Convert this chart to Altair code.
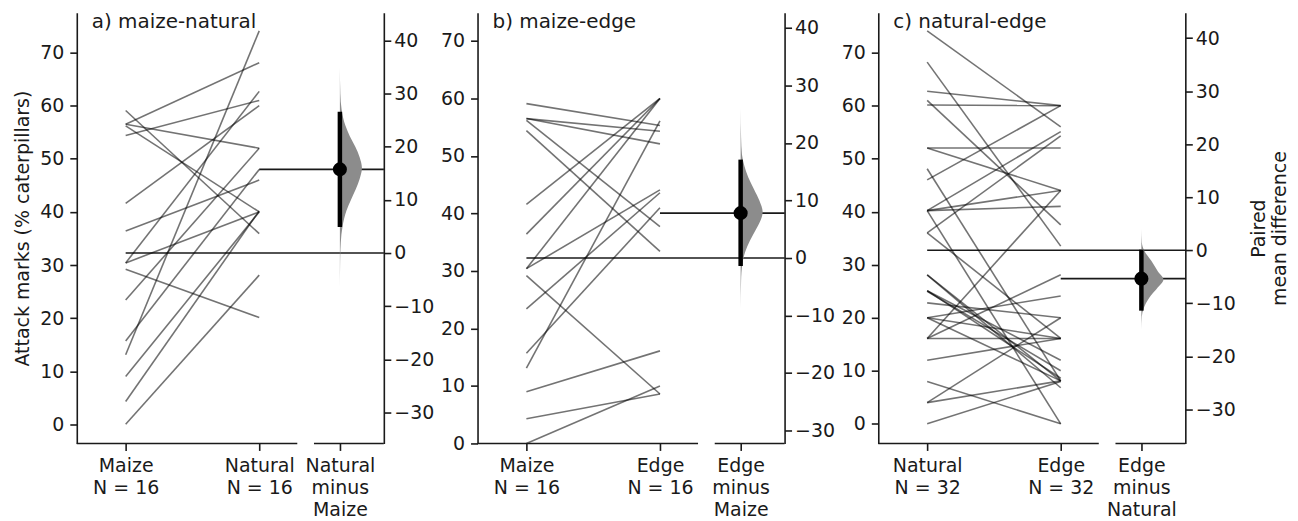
import json
import altair as alt
import numpy as np
import pandas as pd

FONT = "DejaVu Sans"
INK = "#1a1a1a"

# ---------------- data ----------------
# panel a: maize -> natural (paired)
maize_a = [59.1, 56.5, 56.5, 56.2, 54.4, 41.6, 36.4, 30.4, 30.4, 29.2, 23.4, 15.7, 13.1, 9.0, 4.3, 0.0]
natural_a = [35.9, 68.1, 52.0, 40.0, 61.0, 60.0, 46.0, 40.0, 62.7, 20.1, 52.0, 48.0, 74.1, 40.0, 40.2, 28.1]
# panel b: maize -> edge (paired)
maize_b = [59.1, 56.5, 56.5, 56.2, 54.4, 41.6, 36.4, 30.4, 30.4, 29.2, 23.4, 15.7, 13.1, 9.0, 4.3, 0.0]
edge_b = [55.3, 54.3, 52.1, 37.7, 33.4, 60.0, 60.0, 60.0, 44.1, 8.6, 43.6, 41.0, 56.1, 16.1, 8.6, 10.0]
# panel c: natural -> edge (paired)
natural_c = [74.1, 68.2, 62.7, 60.1, 61.0, 52.0, 52.0, 46.0, 48.1, 40.2, 40.2, 40.2, 36.0, 40.2, 36.0, 28.1,
             28.1, 25.1, 25.1, 25.0, 22.8, 20.0, 20.0, 20.0, 16.1, 16.1, 16.1, 12.0, 8.0, 4.0, 4.0, 0.0]
edge_c = [56.0, 33.5, 60.0, 60.0, 37.5, 52.0, 44.0, 60.0, 8.1, 44.0, 41.0, 55.1, 54.3, 0.0, 16.1, 8.1,
          6.8, 8.6, 12.0, 10.0, 20.0, 24.1, 8.1, 16.1, 44.0, 28.1, 16.1, 16.1, 0.0, 8.1, 20.0, 8.0]

# bootstrap distributions of the paired mean difference (half-violin profile, relative width)
dens_a_diff = [-7, -2, 2, 5, 8, 10, 12, 14, 16, 18, 20, 22, 24, 27, 30, 35]
dens_a_rel = [0, 0.01, 0.04, 0.12, 0.3, 0.5, 0.72, 0.9, 1.0, 0.9, 0.7, 0.45, 0.25, 0.08, 0.02, 0]
dens_b_diff = [-9, -4, -1, 1, 3, 5, 7, 8, 10, 12, 14, 16, 18, 21, 26]
dens_b_rel = [0, 0.02, 0.08, 0.2, 0.42, 0.7, 0.95, 1.0, 0.85, 0.6, 0.35, 0.17, 0.06, 0.02, 0]
dens_c_diff = [-15, -12.5, -11, -9, -7, -5.5, -4, -2, 0, 1.5, 4]
dens_c_rel = [0, 0.02, 0.1, 0.35, 0.75, 1.0, 0.75, 0.45, 0.12, 0.02, 0]

# 95% confidence intervals
ci_a = [4.9, 26.6]
ci_b = [-1.4, 17.1]
ci_c = [-11.4, 0.1]

titles = ["a) maize-natural", "b) maize-edge", "c) natural-edge"]
ylims = [[-3.6, 77.5], [0.0, 74.9], [-3.7, 77.5]]
left_ticks = [0, 10, 20, 30, 40, 50, 60, 70]
right_ticks = [-30, -20, -10, 0, 10, 20, 30, 40]

# ---------------- layout (x in units: control=0, test=1) ----------------
W, H = 308, 432
X_MIN, X_MAX = -0.366, 1.933
EFF_POS = 1.604
SEG1_END, SEG2_START = 1.285, 1.41
VMAX = 0.165


def panel(title, ctrl_name, test_name, ctrl, test, dd, dr, ci, ylim, y_title, r_title):
    n = len(ctrl)
    ctrl_mean = float(np.mean(ctrl))
    test_mean = float(np.mean(test))
    eff = test_mean - ctrl_mean

    xs = alt.Scale(domain=[X_MIN, X_MAX], nice=False, zero=False)
    ys = alt.Scale(domain=ylim, nice=False, zero=False)
    ds = alt.Scale(domain=[ylim[0] - ctrl_mean, ylim[1] - ctrl_mean], nice=False, zero=False)

    lab0 = json.dumps([ctrl_name, f"N = {n}"])
    lab1 = json.dumps([test_name, f"N = {n}"])
    lab2 = json.dumps([test_name, "minus", ctrl_name])
    x_axis = alt.Axis(values=[0, 1, EFF_POS], domain=False, grid=False, title=None,
                      labelExpr=f"datum.value < 0.5 ? {lab0} : (datum.value < 1.3 ? {lab1} : {lab2})",
                      labelAngle=0, labelAlign="center", labelBaseline="top", labelPadding=6,
                      labelLineHeight=22, tickSize=7)
    left_axis = alt.Axis(values=left_ticks, grid=False, title=y_title, labelPadding=6,
                         titlePadding=7, tickSize=7)
    right_kw = dict(orient="right", values=right_ticks, grid=False, labelPadding=3, tickSize=7)
    if r_title:
        right_axis = alt.Axis(title=r_title, titleAngle=270, titlePadding=12, **right_kw)
    else:
        right_axis = alt.Axis(title=None, **right_kw)

    lines_df = pd.DataFrame({"pair": list(range(n)) * 2, "x": [0] * n + [1] * n,
                             "v": list(ctrl) + list(test)})
    lines = alt.Chart(lines_df).mark_line(color="black", opacity=0.55, strokeWidth=1.6).encode(
        x=alt.X("x:Q", scale=xs, axis=x_axis),
        y=alt.Y("v:Q", scale=ys, axis=left_axis),
        detail="pair:N",
    )
    means_df = pd.DataFrame({"x": [0, 1], "x2": [X_MAX, X_MAX], "v": [ctrl_mean, test_mean]})
    means = alt.Chart(means_df).mark_rule(color="black", strokeWidth=1.6, opacity=0.9).encode(
        x=alt.X("x:Q", scale=xs, axis=x_axis), x2="x2:Q",
        y=alt.Y("v:Q", scale=ys, axis=left_axis),
    )
    seg_df = pd.DataFrame({"x": [X_MIN, SEG2_START], "x2": [SEG1_END, X_MAX]})
    segs = alt.Chart(seg_df).mark_rule(color=INK, strokeWidth=1.6).encode(
        x=alt.X("x:Q", scale=xs, axis=x_axis), x2="x2:Q", y=alt.value(H),
    )
    ttl = alt.Chart(pd.DataFrame({"t": [title]})).mark_text(
        align="left", baseline="alphabetic", fontSize=20, font=FONT, color=INK
    ).encode(text="t:N", x=alt.value(15), y=alt.value(15))

    dens_df = pd.DataFrame({"d": dd, "x": [EFF_POS] * len(dd),
                            "x2": [EFF_POS + r * VMAX for r in dr]})
    violin = alt.Chart(dens_df).mark_area(orient="horizontal", color="#8c8c8c",
                                          interpolate="monotone").encode(
        y=alt.Y("d:Q", scale=ds, axis=right_axis),
        x=alt.X("x2:Q", scale=xs, axis=x_axis), x2="x:Q",
    )
    ci_df = pd.DataFrame({"x": [EFF_POS], "lo": [ci[0]], "hi": [ci[1]], "eff": [eff]})
    ci_bar = alt.Chart(ci_df).mark_rule(color="black", strokeWidth=4.5).encode(
        x=alt.X("x:Q", scale=xs, axis=x_axis),
        y=alt.Y("lo:Q", scale=ds, axis=right_axis), y2="hi:Q",
    )
    dot = alt.Chart(ci_df).mark_circle(color="black", opacity=1, size=200).encode(
        x=alt.X("x:Q", scale=xs, axis=x_axis),
        y=alt.Y("eff:Q", scale=ds, axis=right_axis),
    )
    left = alt.layer(lines, means, segs, ttl)
    right = alt.layer(violin, ci_bar, dot)
    return alt.layer(left, right).resolve_scale(y="independent").properties(width=W, height=H)


pa = panel(titles[0], "Maize", "Natural", maize_a, natural_a, dens_a_diff, dens_a_rel, ci_a, ylims[0],
           "Attack marks (% caterpillars)", None)
pb = panel(titles[1], "Maize", "Edge", maize_b, edge_b, dens_b_diff, dens_b_rel, ci_b, ylims[1], None, None)
pc = panel(titles[2], "Natural", "Edge", natural_c, edge_c, dens_c_diff, dens_c_rel, ci_c, ylims[2], None,
           ["Paired", "mean difference"])

chart = alt.hconcat(pa, pb, pc, spacing=94, bounds="flush").properties(
    padding={"left": 5, "top": 3, "right": 0, "bottom": 2}
).configure_view(stroke=None).configure_axis(
    labelFont=FONT, labelFontSize=19, labelColor=INK,
    titleFont=FONT, titleFontSize=19, titleFontWeight="normal", titleColor=INK,
    domainColor=INK, domainWidth=1.6, tickColor=INK, tickWidth=1.6,
)

chart.save("out.html", embed_options={"renderer": "svg", "actions": False})
